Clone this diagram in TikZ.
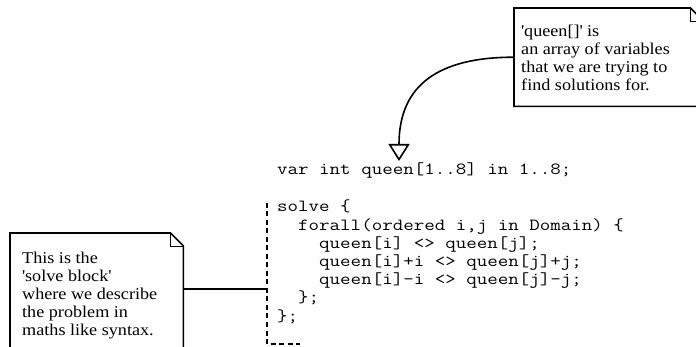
\documentclass[tikz,border=0pt]{standalone}
\usepackage{fontspec}
\usepackage{graphicx}
\newfontfamily\notefont{Liberation Serif}[FakeStretch=1.1]
\usetikzlibrary{arrows.meta}
\tikzset{
 noteline/.style={line width=1.6pt, line join=miter},
 foldline/.style={line width=0.8pt},
 conn/.style={line width=1.6pt},
 notetext/.style={inner sep=0pt, anchor=base west},
 codetext/.style={inner sep=0pt, anchor=base west},
 notebox/.style={inner sep=0pt, anchor=north west, rectangle},
 bracket/.style={line width=2pt, dash pattern=on 5pt off 3.5pt},
}
\newcommand\codelines[1]{\scalebox{1.2}[1]{\vtop{\ttfamily\fontsize{17}{18.2}\selectfont\baselineskip=18.2pt\lineskiplimit=-100pt\lineskip=0pt #1}}}
\newcommand\notelines[1]{\vtop{\notefont\fontsize{16.5}{18}\selectfont\baselineskip=18pt\lineskiplimit=-100pt\lineskip=0pt #1}}
\begin{document}
\begin{tikzpicture}[x=1pt,y=-1pt]
\useasboundingbox (0,0) rectangle (696,347);
\begin{scope}
\clip (0,0) rectangle (696,347);
% top note
\node[notebox, minimum width=189pt, minimum height=98pt] (qnote) at (514,8) {};
\draw[noteline] (qnote.north west) -- ([xshift=-13pt]qnote.north east) -- ([yshift=-13pt]qnote.north east) -- (qnote.south east) -- (qnote.south west) -- cycle;
\draw[foldline] ([xshift=-13pt]qnote.north east) |- ([yshift=-13pt]qnote.north east);
\node[notetext] (qtext) at (521,37) {\notelines{\hbox{\textquotesingle queen[]\textquotesingle{} is}\hbox{an array of variables}\hbox{that we are trying to}\hbox{find solutions for.}}};
% code
\node[codetext] (varline) at (277,175) {\codelines{\hbox{var int queen[1..8] in 1..8;}}};
\coordinate (qtip) at (399,161);
\node[codetext] (solveblock) at (277,212) {\codelines{%
\hbox{solve \{}%
\hbox{\ \ forall(ordered i,j in Domain) \{}%
\hbox{\ \ \ \ queen[i] <> queen[j];}%
\hbox{\ \ \ \ queen[i]+i <> queen[j]+j;}%
\hbox{\ \ \ \ queen[i]-i <> queen[j]-j;}%
\hbox{\ \ \};}%
\hbox{\};}}};
% bracket
\coordinate (btop) at (267,203);
\coordinate (bjoin) at (267,289);
\coordinate (bcorner) at (267,344);
\coordinate (bend) at (300,344);
\draw[bracket] (btop) -- (bcorner) -- (bend);
% left note
\node[notebox, minimum width=173pt, minimum height=140pt] (snote) at (10,233) {};
\draw[noteline] (snote.north west) -- ([xshift=-13pt]snote.north east) -- ([yshift=-13pt]snote.north east) -- (snote.south east) -- (snote.south west) -- cycle;
\draw[foldline] ([xshift=-13pt]snote.north east) |- ([yshift=-13pt]snote.north east);
\node[notetext] (stext) at (22,264) {\notelines{\hbox{This is the}\hbox{\textquotesingle solve block\textquotesingle}\hbox{where we describe}\hbox{the problem in}\hbox{maths like syntax.}}};
\draw[conn] (snote.east |- bjoin) -- (bjoin);
% arrow
\draw[conn, -{Triangle[open, length=17pt, width=21pt]}] (qnote.west) to[out=180, in=90, looseness=1.25] (qtip);
\end{scope}
\end{tikzpicture}
\end{document}
